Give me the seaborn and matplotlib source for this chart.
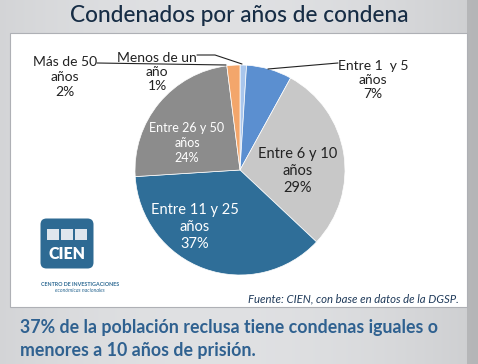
import numpy as np
import matplotlib
matplotlib.use("Agg")
import matplotlib.pyplot as plt
import seaborn as sns
from matplotlib.patches import FancyBboxPatch, Rectangle

# ---- data ----
categories = ["Menos de un\naño", "Entre 1  y 5\naños", "Entre 6 y 10\naños",
              "Entre 11 y 25\naños", "Entre 26 y 50\naños", "Más de 50\naños"]
shares = [1, 7, 29, 37, 24, 2]
pct_labels = ["1%", "7%", "29%", "37%", "24%", "2%"]
colors = ["#a9c6ec", "#5b8fd0", "#c8c8c8", "#2f6e98", "#8c8c8c", "#f3a66b"]
title = "Condenados por años de condena"
source = "Fuente: CIEN, con base en datos de la DGSP."
caption = "37% de la población reclusa tiene condenas iguales o\nmenores a 10 años de prisión."

sns.set_theme(style="white")
plt.rcParams['font.family'] = ['Lato', 'DejaVu Sans']

W, H = 478, 364
fig = plt.figure(figsize=(W / 100, H / 100), dpi=100)

# background axes in pixel coordinates
bg = fig.add_axes([0, 0, 1, 1])
bg.set_xlim(0, W)
bg.set_ylim(H, 0)
bg.axis('off')
xs = np.linspace(0, 1, W)
shade = 0.89 - 0.06 * (xs - 0.45) ** 2 * 4 - 0.10 * (xs > 0.978)
grad = np.dstack([shade * 0.985, shade * 0.99, shade * 1.0])
grad = np.repeat(grad, 10, axis=0)
bg.imshow(np.clip(grad, 0, 1), extent=(0, W, H, 0), aspect='auto', zorder=0)
bg.add_patch(Rectangle((10, 33), 457, 274, facecolor='white',
                       edgecolor='#aeb0b5', lw=0.8, zorder=1))

bg.text(239, 16, title, ha='center', va='center', fontsize=16.3,
        fontweight='medium', color='#172d45', zorder=3)
bg.text(459, 299, source, ha='right', va='center', fontsize=8.2,
        style='italic', color='#1f3a5a', zorder=3)
bg.text(20, 339, caption, ha='left', va='center', fontsize=12.8,
        fontweight='bold', color='#2f6190', linespacing=1.42, zorder=3)

# logo
bg.add_patch(FancyBboxPatch((42, 220), 50, 47, boxstyle="round,pad=1.5,rounding_size=6",
                            facecolor='#2e6a93', edgecolor='none', zorder=3))
for i in range(3):
    bg.add_patch(Rectangle((47 + i * 14, 229), 12, 11, facecolor='#dfe6ee',
                           edgecolor='none', zorder=4))
bg.text(67, 254, "CIEN", ha='center', va='center', fontsize=11.5,
        fontweight='heavy', color='white', zorder=4)
bg.text(80, 284, "CENTRO DE INVESTIGACIONES", ha='center', va='center',
        fontsize=3.9, fontweight='bold', color='#2e6a93', zorder=3)
bg.text(80, 291, "económicas nacionales", ha='center', va='center',
        fontsize=3.8, style='italic', color='#2e6a93', zorder=3)

# pie axes
cx, cy, r = 240, 170, 105
ax = fig.add_axes([(cx - r) / W, (H - cy - r) / H, 2 * r / W, 2 * r / H])
ax.pie(shares, colors=colors, startangle=90, counterclock=False,
       wedgeprops=dict(edgecolor='white', linewidth=0.5))
ax.set_xlim(-1, 1)
ax.set_ylim(-1, 1)
ax.axis('off')


def p2d(px, py):
    return (px - cx) / r, (cy - py) / r


label_pos = [(157, 72), (373, 80), (298, 171), (195, 227), (187, 143), (65, 77)]
label_col = ['#222222', '#222222', '#222222', 'white', 'white', '#222222']
label_size = [10, 10, 10.5, 10.5, 9, 10]
for cat, pct, (px, py), col, fs in zip(categories, pct_labels, label_pos, label_col, label_size):
    x, y = p2d(px, py)
    ax.text(x, y, f"{cat}\n{pct}", ha='center', va='center', fontsize=fs,
            color=col, linespacing=1.25, clip_on=False)

# leader lines
leaders = [[(197, 55), (215, 55), (242, 64)],
           [(338, 63), (268, 69)],
           [(97, 63), (226, 65)]]
for pts in leaders:
    d = [p2d(*p) for p in pts]
    ax.plot([p[0] for p in d], [p[1] for p in d], color='#222222', lw=0.8,
            clip_on=False)

fig.savefig("out.png", dpi=100)
